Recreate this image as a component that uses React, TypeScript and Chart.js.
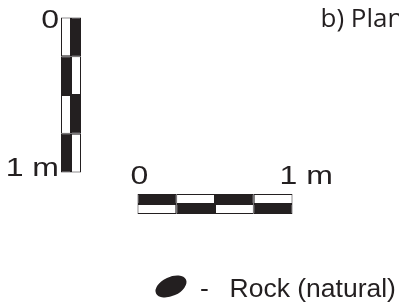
import React, { useEffect, useRef } from 'react';
import { Chart, registerables } from 'chart.js';

Chart.register(...registerables);

// ---- data ----
const scaleDivisions = [0, 0.25, 0.5, 0.75, 1]; // metres
const tickValues = [0, 1];
const tickLabels = ['0', '1 m'];
const panelTitle = 'b) Plan';
const legendLabels = ['Rock (natural)'];

// ---- layout / style ----
const W = 399;
const H = 305;
const INK = '#231f20';
const PAPER = '#ffffff';
const PX_PER_M = 155;
const V_ORIGIN_Y = 17.5; // page px of 0 m on vertical scale bar
const H_ORIGIN_X = 137.5; // page px of 0 m on horizontal scale bar
const V_COLS = [71, 81]; // page px column centres of vertical bar
const H_ROWS = [194, 204]; // page px row centres of horizontal bar
const CELL = 10;
const LABEL_FONT = '25px "Liberation Sans", Arial, sans-serif';
const LABEL_STRETCH = 1.28;
const TITLE_FONT = '26px "Open Sans", sans-serif';
const LEGEND_FONT = '26.5px "Liberation Sans", Arial, sans-serif';

const segments = scaleDivisions.slice(0, -1).map((d, i) => [d, scaleDivisions[i + 1]]);

const vData: any[] = [];
const vColors: string[] = [];
V_COLS.forEach((cx, c) =>
  segments.forEach((seg, s) => {
    vData.push({ x: cx, y: seg });
    vColors.push((s + c) % 2 === 0 ? PAPER : INK);
  })
);

const hData: any[] = [];
const hColors: string[] = [];
H_ROWS.forEach((cy, r) =>
  segments.forEach((seg, s) => {
    hData.push({ y: cy, x: seg });
    hColors.push((s + r) % 2 === 0 ? INK : PAPER);
  })
);

function stretchedText(ctx: CanvasRenderingContext2D, text: string, x: number, y: number, align: CanvasTextAlign, sx: number) {
  ctx.save();
  ctx.translate(x, y);
  ctx.scale(sx, 1);
  ctx.textAlign = align;
  ctx.fillText(text, 0, 0);
  ctx.restore();
}

const annotations = {
  id: 'scaleAnnotations',
  afterDatasetsDraw(chart: any) {
    const { ctx } = chart;
    const mx = chart.scales.mx;
    const my = chart.scales.my;
    const px = chart.scales.px;
    ctx.save();
    ctx.fillStyle = INK;
    ctx.textBaseline = 'alphabetic';

    // vertical scale labels
    ctx.font = LABEL_FONT;
    const vLeft = px.getPixelForValue(V_COLS[0]) - CELL / 2;
    tickValues.forEach((v, i) => {
      const y = my.getPixelForValue(v);
      stretchedText(ctx, tickLabels[i], vLeft - 7, i === 0 ? y + 10.5 : y + 3.5, 'right', LABEL_STRETCH);
    });

    // horizontal scale labels
    const hTop = chart.scales.py.getPixelForValue(H_ROWS[0]) - CELL / 2;
    tickValues.forEach((v, i) => {
      const x = mx.getPixelForValue(v);
      if (i === 0) {
        stretchedText(ctx, tickLabels[i], x + 2, hTop - 5, 'center', LABEL_STRETCH);
      } else {
        stretchedText(ctx, tickLabels[i], x - 13, hTop - 5, 'left', LABEL_STRETCH);
      }
    });

    // title
    ctx.font = TITLE_FONT;
    ctx.textAlign = 'left';
    ctx.fillText(panelTitle, 320.5, 26.5);

    // legend
    legendLabels.forEach((label) => {
      ctx.beginPath();
      ctx.ellipse(171, 286.5, 16.5, 9.5, (-25 * Math.PI) / 180, 0, Math.PI * 2);
      ctx.fill();
      ctx.font = LEGEND_FONT;
      ctx.textAlign = 'left';
      ctx.fillText('-', 200, 297);
      ctx.fillText(label, 229.5, 297);
    });
    ctx.restore();
  },
};

export default function App() {
  const ref = useRef<HTMLCanvasElement | null>(null);
  useEffect(() => {
    if (!ref.current) return;
    const common = {
      borderColor: INK,
      borderWidth: 1,
      borderSkipped: false,
      barThickness: CELL,
      inflateAmount: 0,
    };
    const hidden = { display: false, offset: false, grid: { offset: false }, stacked: false, grace: 0 };
    const chart = new Chart(ref.current, {
      type: 'bar',
      data: {
        datasets: [
          {
            label: 'Vertical scale',
            data: vData,
            indexAxis: 'x',
            xAxisID: 'px',
            yAxisID: 'my',
            backgroundColor: vColors,
            ...common,
          } as any,
          {
            label: 'Horizontal scale',
            data: hData,
            indexAxis: 'y',
            xAxisID: 'mx',
            yAxisID: 'py',
            backgroundColor: hColors,
            ...common,
          } as any,
        ],
      },
      options: {
        responsive: false,
        animation: false,
        events: [],
        devicePixelRatio: 1,
        layout: { padding: 0 },
        plugins: { legend: { display: false }, tooltip: { enabled: false } },
        scales: {
          px: { type: 'linear', axis: 'x', position: 'bottom', ...hidden, min: 0, max: W },
          py: { type: 'linear', axis: 'y', position: 'left', ...hidden, min: 0, max: H, reverse: true },
          mx: {
            type: 'linear', axis: 'x', position: 'bottom', ...hidden,
            min: -H_ORIGIN_X / PX_PER_M, max: (W - H_ORIGIN_X) / PX_PER_M,
          },
          my: {
            type: 'linear', axis: 'y', position: 'left', ...hidden,
            min: -V_ORIGIN_Y / PX_PER_M, max: (H - V_ORIGIN_Y) / PX_PER_M, reverse: true,
          },
        },
      } as any,
      plugins: [annotations],
    });
    return () => chart.destroy();
  }, []);
  return (
    <div style={{ position: 'absolute', left: 0, top: 0, width: W, height: H, background: '#fff' }}>
      <canvas ref={ref} width={W} height={H} style={{ display: 'block' }} />
    </div>
  );
}
